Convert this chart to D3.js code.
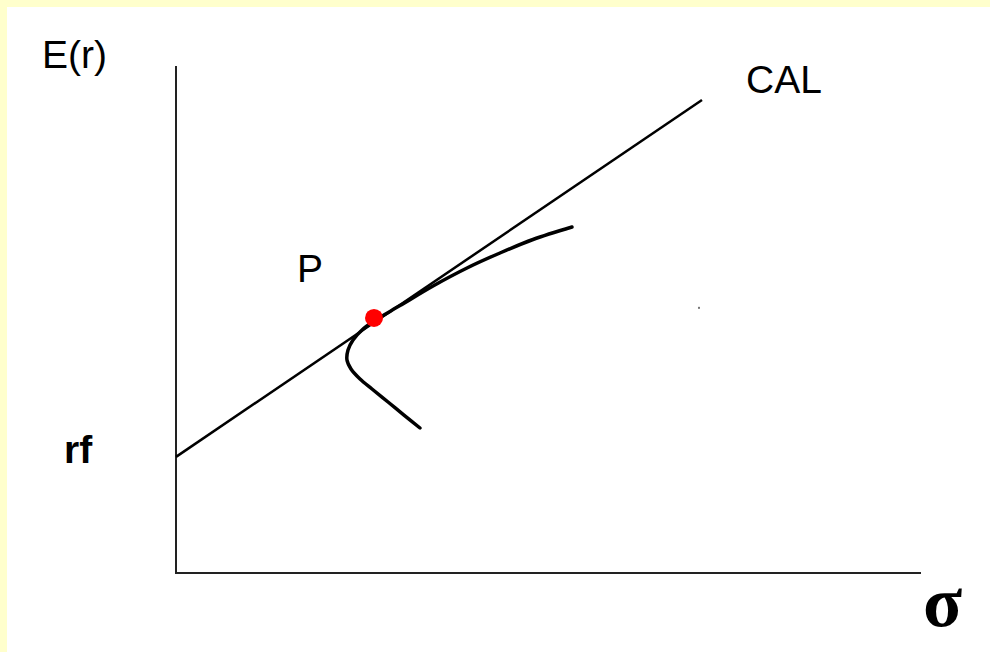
<!DOCTYPE html>
<html lang="en">
<head>
<meta charset="UTF-8">
<script src="https://d3js.org/d3.v7.min.js"></script>
<title>CAL</title>
<style>
  html, body { margin: 0; padding: 0; background: #ffffcc; }
  svg { display: block; }
</style>
</head>
<body>
<svg id="mainsvg" width="990" height="652"></svg>
<script>
// data (sigma, E(r)) in unit coordinates of the plot
const rf = 0.229
const calEnd = [0.706, 0.933]
const frontierSigma = [0.3275, 0.3060, 0.2846, 0.2631, 0.2470, 0.2349, 0.2295, 0.2309, 0.2376, 0.2497, 0.2658, 0.3007, 0.3450, 0.3906, 0.4349, 0.4792, 0.5315]
const frontierReturn = [0.2860, 0.3116, 0.3373, 0.3629, 0.3826, 0.4024, 0.4201, 0.4398, 0.4596, 0.4793, 0.4970, 0.5274, 0.5661, 0.6016, 0.6312, 0.6578, 0.6824]
const tangency = [0.2658, 0.5030]
const strayDot = [0.702, 0.523]

const svg = d3.select('#mainsvg')
const width = +svg.attr('width')
const height = +svg.attr('height')

// white panel, yellow band only top and left
svg.append('rect').attr('width', width).attr('height', height).attr('fill', '#ffffcc')
svg.append('rect').attr('x', 7).attr('y', 7).attr('width', width - 7).attr('height', height - 7).attr('fill', '#fff')

const xScale = d3.scaleLinear().domain([0, 1]).range([176, 921])
const yScale = d3.scaleLinear().domain([0, 1]).range([573, 66])

// axes
svg.append('path')
  .attr('d', `M${xScale(0)},${yScale(1)}V${yScale(0)}H${xScale(1)}`)
  .attr('fill', 'none').attr('stroke', '#222').attr('stroke-width', 2)

// CAL
const line = d3.line().x(d => xScale(d[0])).y(d => yScale(d[1]))
svg.append('path')
  .attr('d', line([[0, rf], calEnd]))
  .attr('fill', 'none').attr('stroke', '#000').attr('stroke-width', 2.5)

// efficient frontier
const frontier = frontierSigma.map((s, i) => [s, frontierReturn[i]])
svg.append('path')
  .attr('d', line.curve(d3.curveCatmullRom)(frontier))
  .attr('fill', 'none').attr('stroke', '#000').attr('stroke-width', 3.5)
  .attr('stroke-linecap', 'round')

// tangency portfolio
svg.append('circle')
  .attr('cx', xScale(tangency[0])).attr('cy', yScale(tangency[1]))
  .attr('r', 9).attr('fill', '#ff0000')

svg.append('rect')
  .attr('x', xScale(strayDot[0]) - 1).attr('y', yScale(strayDot[1]) - 1)
  .attr('width', 2).attr('height', 2).attr('fill', '#777')

// labels
const txt = (x, y, s, opts = {}) => svg.append('text')
  .attr('x', x).attr('y', y).text(s)
  .attr('font-family', opts.family || 'Liberation Sans, Arial, sans-serif')
  .attr('font-size', opts.size || 39)
  .attr('font-weight', opts.weight || 'normal')
  .attr('fill', '#000')

txt(42, 68, 'E(r)')
txt(746, 93, 'CAL')
txt(297, 282, 'P')
txt(64, 463, 'rf', { weight: 'bold' })
txt(923, 626, 'σ', { family: 'Liberation Serif, Times New Roman, serif', size: 72, weight: 'bold' })
</script>
</body>
</html>
